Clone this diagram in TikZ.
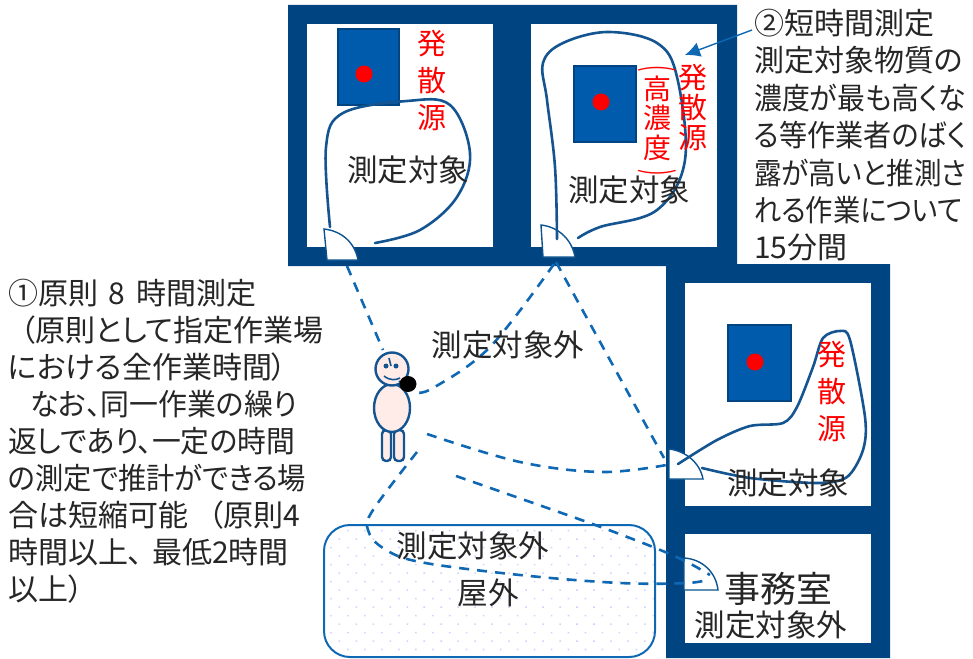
\documentclass[tikz,border=0pt]{standalone}
\usepackage{fontspec}
\setmainfont{Noto Sans CJK JP}[RawFeature=+palt]
\usetikzlibrary{arrows.meta,patterns.meta,shapes.geometric}
\definecolor{wallblue}{RGB}{0,68,129}
\definecolor{srcblue}{RGB}{0,91,172}
\definecolor{pathblue}{RGB}{20,85,145}
\definecolor{dashblue}{RGB}{15,104,180}
\definecolor{skin}{RGB}{255,236,232}
\newcommand{\fitline}[2]{\resizebox{#1pt}{\height}{#2}}
\begin{document}
\begin{tikzpicture}[x=1pt,y=-1pt]
  \tikzset{
    room/.style={fill=white,draw=none},
    source/.style={fill=srcblue,draw=wallblue,line width=1.4pt},
    spot/.style={circle,fill=red,inner sep=0pt,minimum size=17pt},
    door/.style={fill=white,draw=dashblue!80!black,line width=1.4pt,line join=miter},
    wander/.style={draw=pathblue,line width=2.6pt,line cap=round},
    walk/.style={draw=dashblue,line width=2.6pt,dash pattern=on 10pt off 8pt},
    body/.style={fill=skin,draw=pathblue,line width=2.4pt},
    label/.style={font=\fontsize{30.5}{30.5}\selectfont,text=black!85,inner sep=0pt},
    redlabel/.style={font=\fontsize{29}{37}\selectfont,text=red,inner sep=0pt,align=center},
    note/.style={font=\fontsize{30}{37}\selectfont,text=black!85,inner sep=0pt,align=left,anchor=north west},
    curl/.style={text=red,inner sep=0pt},
  }
  \useasboundingbox (0,0) rectangle (973,658);
  % the building
  \fill[wallblue] (288,5) -- (737,5) -- (737,264) -- (890,264) -- (890,658) -- (666,658)
    -- (666,266) -- (288,266) -- cycle;
  \path[room] (307,24) rectangle (493,247);
  \path[room] (531,24) rectangle (717,247);
  \path[room] (685,283) rectangle (871,506);
  \path[room] (685,534) rectangle (871,643);
  % the outdoor area
  \draw[draw=dashblue,line width=2pt,rounded corners=26pt,
    pattern={Dots[radius=1.1pt,distance=12pt,angle=45]},pattern color=blue!18]
    (324,525) rectangle (655,657);
  % the sources
  \draw[source] (338,29) rectangle (399,105);
  \draw[source] (574,66) rectangle (636,142);
  \draw[source] (728,325) rectangle (791,401);
  \node[spot] (dotA) at (364,74) {};
  \node[spot] (dotB) at (601,102) {};
  \node[spot] (dotC) at (755,362) {};
  % the doors
  \draw[door] (324,229) -- (327,260) -- (358,260) .. controls (355,243) and (342,231) .. (324,229) -- cycle;
  \draw[door] (541,225) -- (543,257) -- (575,257) .. controls (572,240) and (559,227) .. (541,225) -- cycle;
  \draw[door] (669,449) -- (669,479) -- (703,479) .. controls (700,463) and (686,451) .. (669,449) -- cycle;
  \draw[door] (684,558) -- (684,590) -- (718,590) .. controls (716,572) and (702,559) .. (684,558) -- cycle;
  % the routes inside the rooms
  \draw[wander] plot[smooth,tension=0.6] coordinates {(330,227) (326,147) (343,113) (407,101) (450,105) (470,153) (457,197) (420,230) (375,243)};
  \draw[wander] plot[smooth,tension=0.6] coordinates {(557,239) (555,167) (547,100) (543,63) (563,43) (608,32) (657,43) (677,77) (685,160) (657,210) (600,227) (578,238)};
  \draw[wander] plot[smooth,tension=0.5] coordinates {(678,464) (717,440) (750,426) (783,423) (797,407) (813,367) (823,338) (840,331) (850,340) (865,417) (863,450) (847,477) (817,483) (750,478) (702,468)};
  % the routes between the rooms
  \coordinate (headTop) at (383,350);
  \coordinate (doorA) at (347,266);
  \coordinate (doorB) at (556,262);
  \coordinate (doorC) at (664,458);
  \draw[walk] (doorA) -- (headTop);
  \draw[walk] (doorB) -- (doorC);
  \draw[walk] plot[smooth,tension=0.6] coordinates {(554,264) (490,347) (433,388) (415,392)};
  \draw[walk] plot[smooth,tension=0.6] coordinates {(427,434) (520,462) (603,472) (672,464)};
  \draw[walk] plot[smooth,tension=0.5] coordinates {(456,476) (587,522) (653,547) (687,562) (710,575)};
  \draw[walk] plot[smooth,tension=0.6] coordinates {(417,452) (373,510) (368,530) (383,548) (420,562) (520,575) (620,583) (687,583) (710,579)};
  % the worker
  \draw[body,rounded corners=4pt] (382,430) rectangle (391,461);
  \draw[body,rounded corners=4pt] (394,430) rectangle (404,461);
  \draw[body] (392,408) ellipse (18pt and 24pt);
  \draw[body] (392,369) circle (16.5pt);
  \draw[pathblue,line width=1.6pt] (389,358) -- (391,366);
  \fill[pathblue] (386,366) circle (2.5pt) (396,366) circle (2.5pt);
  \draw[pathblue,line width=1.6pt] (384,376) .. controls (390,381) and (396,380) .. (400,378);
  \draw[pathblue,line width=1.6pt] (399,381) -- (405,386);
  \node[ellipse,fill=black,inner sep=0pt,minimum width=17pt,minimum height=16pt] (phone) at (408,384) {};
  % the labels
  \node[redlabel] (srcA) at (432,81) {発\\散\\源};
  \node[redlabel,font=\fontsize{29}{30}\selectfont] (srcB) at (693,108) {発\\散\\源};
  \node[redlabel] (srcC) at (832,392) {発\\散\\源};
  \node[redlabel,font=\fontsize{28}{29.5}\selectfont] (srcHigh) at (657,118) {高\\濃\\度};
  \node[curl] (curlTop) at (657,69) {\rotatebox{-90}{\scalebox{0.5}[1]{\fontsize{38}{38}\selectfont(}}};
  \node[curl] (curlEnd) at (657,173) {\rotatebox{-90}{\scalebox{0.5}[1]{\fontsize{38}{38}\selectfont)}}};
  \node[label] (targetA) at (408,170) {測定対象};
  \node[label] (targetB) at (629,190) {測定対象};
  \node[label] (targetC) at (788,483) {測定対象};
  \node[label] (outA) at (508,345) {測定対象外};
  \node[label] (outB) at (473,546) {測定対象外};
  \node[label] (outside) at (488,593) {屋外};
  \node[label,font=\fontsize{36}{36}\selectfont] (office) at (778,589) {事務室};
  \node[label] (outC) at (771,625) {測定対象外};
  \node[note] (ruleA) at (8,279) {①原則\hspace*{4pt} 8 \hspace*{4pt}時間測定\\\hspace*{12pt}（原則として指定作業場\\における全作業時間）\\\hspace*{22pt}\fitline{267}{なお、同一作業の繰り}\\\fitline{287}{返しであり、一定の時間}\\\fitline{298}{の測定で推計ができる場}\\合は短縮可能\hspace*{20pt}（原則4\\時間以上、\hspace*{9pt}最低2時間\\以上）};
  \node[note,font=\fontsize{30}{37.4}\selectfont] (ruleB) at (754,9) {②短時間測定\\測定対象物質の\\\fitline{212}{濃度が最も高くな}\\\fitline{212}{る等作業者のばく}\\\fitline{212}{露が高いと推測さ}\\\fitline{208}{れる作業について}\\15分間};
  \coordinate (tail) at (752,30);
  \draw[-{Latex[length=15pt,width=15pt]},draw=dashblue,line width=1.4pt] (tail) -- (685,55);
\end{tikzpicture}
\end{document}
